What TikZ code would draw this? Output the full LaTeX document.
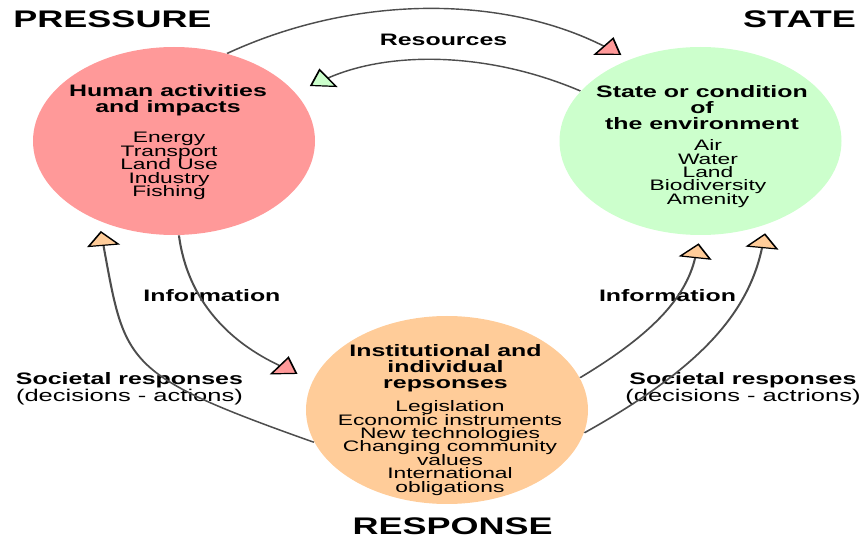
\documentclass[tikz,border=0pt]{standalone}
\usepackage{fontspec}
\setmainfont{Liberation Sans}
\usetikzlibrary{arrows.meta}

\definecolor{pressurered}{HTML}{FF9999}
\definecolor{stategreen}{HTML}{CCFFCC}
\definecolor{responseorange}{HTML}{FFCC99}
\definecolor{linegray}{HTML}{4D4D4D}

\newcommand\tightlines{\lineskiplimit=-5pt\relax}

\tikzset{
  phase/.style={circle, minimum size=94pt, inner sep=0pt},
  title/.style={font=\fontsize{12}{14}\selectfont\bfseries},
  heading/.style={align=center, inner sep=0pt, font=\fontsize{8.3}{8}\selectfont\bfseries\tightlines},
  items/.style={align=center, inner sep=0pt, font=\fontsize{7.6}{6.7}\selectfont\tightlines},
  flowlabel/.style={align=center, inner sep=0pt, font=\fontsize{8.3}{8.5}\selectfont\bfseries\tightlines},
  flow/.style={draw=linegray, line width=0.7pt},
  flowtip/.style={-{Triangle[length=7.5pt, width=11pt, color=black, fill=#1, line width=0.6pt]}},
}

\begin{document}
\begin{tikzpicture}[x=0.5pt, y=-0.5pt]
  \useasboundingbox (0,0) rectangle (864,540);
  \begin{scope}[transform canvas={xscale=1.5}]

  % the three phases
  \node[phase, fill=pressurered] (pressure) at (116,141) {};
  \node[phase, fill=stategreen] (state) at (467,141) {};
  \node[phase, fill=responseorange] (response) at (298,410) {};

  % titles
  \node[title] (pressuretitle) at (75,19) {PRESSURE};
  \node[title] (statetitle) at (533,19) {STATE};
  \node[title] (responsetitle) at (301.7,526) {RESPONSE};

  % texts inside the circles
  \node[heading] (pressurehead) at (112,100) {Human activities\\and impacts};
  \node[items] (pressureitems) at (112.7,166) {Energy\\Transport\\Land Use\\Industry\\Fishing};
  \node[heading] (statehead) at (468,108) {State or condition\\of\\the environment};
  \node[items] (stateitems) at (472,173.5) {Air\\Water\\Land\\Biodiversity\\Amenity};
  \node[heading] (responsehead) at (297,368) {Institutional and\\individual\\repsonses};
  \node[items] (responseitems) at (300,448) {Legislation\\Economic instruments\\New technologies\\Changing community\\values\\International\\obligations};

  % connector labels
  \node[flowlabel] (resources) at (295.7,40) {Resources};
  \node[flowlabel] (infoleft) at (141.3,296) {Information};
  \node[flowlabel] (inforight) at (445,296) {Information};
  \node[flowlabel] (societalleft) at (86.3,388.5) {Societal responses\\{\fontsize{8.5}{8.5}\selectfont\mdseries (decisions - actions)}};
  \node[flowlabel] (societalright) at (495.3,388.5) {Societal responses\\{\fontsize{8.5}{8.5}\selectfont\mdseries (decisions - actrions)}};

  % connectors
  \draw[flow, flowtip=pressurered, shorten >=3.5pt] (pressure.68) to[bend left=36] (state.120);
  \draw[flow, flowtip=stategreen, shorten >=5.75pt] (state.148) to[bend right=33] (pressure.31);
  \draw[flow, flowtip=pressurered, shorten >=6pt] (pressure.272) to[out=-85, in=145] (response.162);
  \draw[flow, flowtip=responseorange, shorten >=5pt] (response.200) to[out=152, in=-83, looseness=1.4] (pressure.238);
  \draw[flow, flowtip=responseorange, shorten >=4pt] (response.20) to[out=42, in=-99] (state.270);
  \draw[flow, flowtip=responseorange, shorten >=4.5pt] (response.-14) to[out=40, in=-98] (state.-62);

  \end{scope}
\end{tikzpicture}
\end{document}
